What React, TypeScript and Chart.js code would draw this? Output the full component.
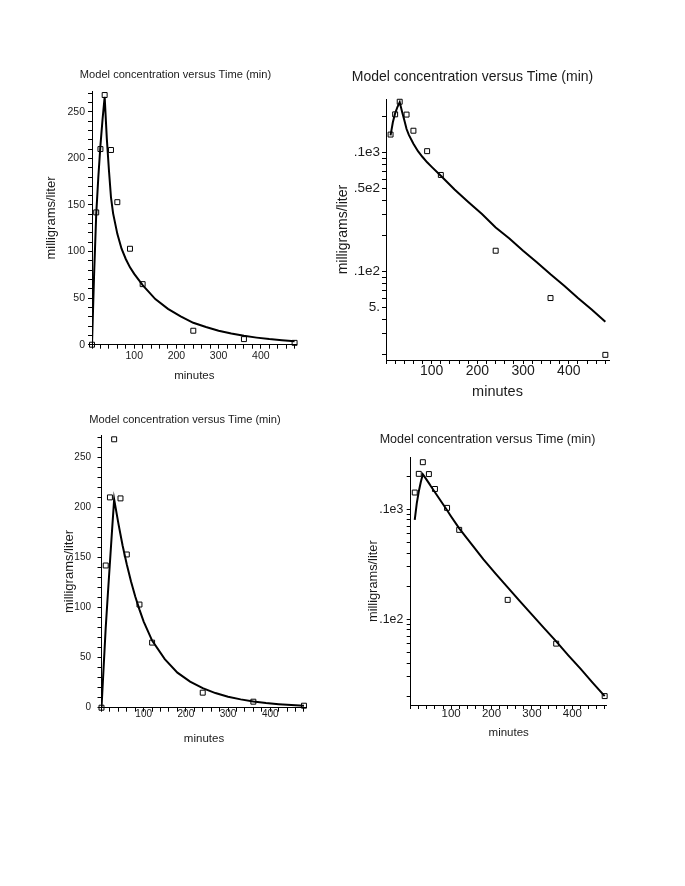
import React, { useEffect, useRef } from 'react';
import { Chart, registerables } from 'chart.js';

Chart.register(...registerables);

// ---- data (minutes, milligrams/liter) ----
const TIMES = [0, 10, 20, 30, 45, 60, 90, 120, 240, 360, 480];
const CONCENTRATIONS = [0, 142, 210, 268, 209, 153, 103, 65, 15, 6, 2];

const MODEL_TIMES = [0, 5, 10, 15, 20, 25, 30, 35, 40, 45, 50, 60, 70, 80, 90, 100, 120, 150, 180, 210, 240, 270, 300, 330, 360, 390, 420, 450, 480];
// upper pair of panels: fitted model
const MODEL_A = [0, 76, 140, 180, 214, 242, 266, 222, 188, 158, 141, 119, 103, 92, 83, 76, 64, 49, 38.5, 30.5, 23.5, 19, 15, 12, 9.5, 7.6, 6, 4.8, 3.8];
// lower pair of panels: fitted model
const MODEL_B = [0, 40, 80, 113, 145, 177, 208, 196, 184, 173, 162, 143, 126, 111, 98, 86, 67, 48.5, 35, 26, 19.5, 14.6, 11, 8.3, 6.3, 4.7, 3.55, 2.65, 2.0];

const TITLE = 'Model concentration versus Time (min)';
const Y_LABEL = 'milligrams/liter';
const X_LABEL = 'minutes';

const X_LABELED_TICKS = [100, 200, 300, 400];
const X_MINOR_STEP = 20;
const Y_LIN_LABELED_TICKS = [0, 50, 100, 150, 200, 250];
const Y_LIN_MINOR_STEP = 10;
const LOG_MINOR_TICKS = [2, 3, 4, 5, 6, 7, 8, 9, 10, 20, 30, 40, 50, 60, 70, 80, 90, 100, 200];
const LOG_TICKS_TOP = [5, 10, 50, 100];
const LOG_LABELS_TOP = ['5.', '.1e2', '.5e2', '.1e3'];
const LOG_TICKS_BOTTOM = [10, 100];
const LOG_LABELS_BOTTOM = ['.1e2', '.1e3'];
const LOG_CURVE_START = 10;

// ---- layout (page coordinates) ----
type Geo = {
  canvas: [number, number, number, number];
  plot: [number, number, number, number];
  title: [number, number, number];
  yTitle: [number, number];
  xTitle: [number, number];
  xTicks: [number, number];
  yTicks: [number, number];
  xMax: number;
  yMin: number;
  yMax: number;
};

const FONT = "'Liberation Sans', Arial, sans-serif";
const INK = '#1a1a1a';
const TL = 4;

const GEO_TL: Geo = {
  canvas: [30, 60, 310, 392],
  plot: [92, 91.3, 296.7, 344.7],
  title: [175.5, 75, 11.1],
  yTitle: [51.7, 13],
  xTitle: [376, 11.5],
  xTicks: [356, 10.5],
  yTicks: [85, 10.5],
  xMax: 485,
  yMin: 0,
  yMax: 272,
};
const GEO_TR: Geo = {
  canvas: [325, 62, 625, 405],
  plot: [386, 99.3, 609, 360],
  title: [472.5, 77.5, 14],
  yTitle: [343.3, 14],
  xTitle: [391.7, 14.5],
  xTicks: [371.5, 14],
  yTicks: [380, 13.5],
  xMax: 488,
  yMin: 1.81,
  yMax: 281,
};
const GEO_BL: Geo = {
  canvas: [45, 405, 320, 755],
  plot: [101.5, 435.3, 306.5, 707.7],
  title: [185, 420, 11.1],
  yTitle: [69, 13],
  xTitle: [739, 11.5],
  xTicks: [714.5, 10],
  yTicks: [91, 10],
  xMax: 486,
  yMin: 0,
  yMax: 272,
};
const GEO_BR: Geo = {
  canvas: [355, 425, 625, 750],
  plot: [410.7, 457.3, 606.7, 705],
  title: [487.5, 440, 12.5],
  yTitle: [373.3, 12.8],
  xTitle: [733.3, 11.5],
  xTicks: [713.8, 11.5],
  yTicks: [403.3, 12.3],
  xMax: 485,
  yMin: 1.66,
  yMax: 297,
};

function buildConfig(geo: Geo, model: number[], log: boolean, logTicks: number[], logLabels: string[]): any {
  const [cl, ct, cr, cb] = geo.canvas;
  const [pl, pt, pr, pb] = geo.plot;
  const boxLeft = 2 * geo.title[0] - pr;
  const padLeft = boxLeft - cl;
  const padRight = cr - pr;
  const yWidth = pl - boxLeft;
  const xHeight = cb - pb;
  const tLH = geo.title[2] * 1.2;
  const titlePadTop = geo.title[1] - ct - tLH / 2;
  const titlePadBottom = pt - ct - titlePadTop - tLH;
  const yTLH = geo.yTitle[1] * 1.2;
  const yTitlePad = geo.yTitle[0] - boxLeft - yTLH / 2;
  const xTLH = geo.xTitle[1] * 1.2;
  const xTitlePad = cb - geo.xTitle[0] - xTLH / 2;
  const xTickLH = geo.xTicks[1] * 1.2;
  const xTickPad = geo.xTicks[0] - pb - TL - xTickLH / 2;
  const yTickPad = pl - TL - geo.yTicks[0];

  const pts = TIMES.map((t, i) => ({ x: t, y: CONCENTRATIONS[i] })).filter((p) => !log || p.y > 0);
  const curve = MODEL_TIMES.map((t, i) => ({ x: t, y: model[i] })).filter((p) => !log || p.x >= LOG_CURVE_START);

  const xTicks: number[] = [];
  for (let v = 0; v <= geo.xMax; v += X_MINOR_STEP) xTicks.push(v);
  const yLinTicks: number[] = [];
  for (let v = 0; v <= geo.yMax; v += Y_LIN_MINOR_STEP) yLinTicks.push(v);

  const grid = { display: true, drawOnChartArea: false, drawTicks: true, tickLength: TL, color: '#000', lineWidth: 1 };
  const border = { display: true, color: '#000', width: 1 };

  return {
    type: 'scatter',
    data: {
      datasets: [
        {
          data: curve,
          showLine: true,
          borderColor: '#000',
          borderWidth: 2,
          pointRadius: 0,
          tension: 0,
          fill: false,
          order: 2,
        },
        {
          data: pts,
          showLine: false,
          pointStyle: 'rect',
          pointRadius: 3.5,
          pointBorderWidth: 1,
          pointBorderColor: '#000',
          pointBackgroundColor: 'rgba(255,255,255,0)',
          borderColor: '#000',
          backgroundColor: 'rgba(255,255,255,0)',
          clip: false,
          order: 1,
        },
      ],
    },
    options: {
      responsive: false,
      animation: false,
      devicePixelRatio: 1,
      layout: { padding: { left: padLeft, right: padRight, top: 0, bottom: 0 } },
      plugins: {
        legend: { display: false },
        tooltip: { enabled: false },
        title: {
          display: true,
          text: TITLE,
          color: INK,
          font: { family: FONT, size: geo.title[2], weight: 'normal' },
          padding: { top: titlePadTop, bottom: titlePadBottom },
        },
      },
      scales: {
        x: {
          type: 'linear',
          position: 'bottom',
          min: 0,
          max: geo.xMax,
          grid,
          border,
          afterFit: (s: any) => { s.height = xHeight; },
          afterBuildTicks: (s: any) => { s.ticks = xTicks.map((v) => ({ value: v })); },
          ticks: {
            autoSkip: false,
            maxRotation: 0,
            minRotation: 0,
            padding: xTickPad,
            color: INK,
            font: { family: FONT, size: geo.xTicks[1] },
            callback: (v: any) => (X_LABELED_TICKS.includes(Number(v)) ? String(v) : ''),
          },
          title: {
            display: true,
            text: X_LABEL,
            color: INK,
            font: { family: FONT, size: geo.xTitle[1] },
            padding: { top: 0, bottom: xTitlePad },
          },
        },
        y: {
          type: log ? 'logarithmic' : 'linear',
          position: 'left',
          min: geo.yMin,
          max: geo.yMax,
          grid,
          border,
          afterFit: (s: any) => { s.width = yWidth; },
          afterBuildTicks: (s: any) => {
            s.ticks = (log ? LOG_MINOR_TICKS : yLinTicks).map((v) => ({ value: v }));
          },
          ticks: {
            autoSkip: false,
            padding: yTickPad,
            color: INK,
            font: { family: FONT, size: geo.yTicks[1] },
            callback: (v: any) => {
              const n = Number(v);
              if (log) {
                const i = logTicks.indexOf(n);
                return i >= 0 ? logLabels[i] : '';
              }
              return Y_LIN_LABELED_TICKS.includes(n) ? String(n) : '';
            },
          },
          title: {
            display: true,
            text: Y_LABEL,
            color: INK,
            font: { family: FONT, size: geo.yTitle[1] },
            padding: { top: yTitlePad, bottom: 0 },
          },
        },
      },
    },
  };
}

function Panel({ geo, model, log, logTicks, logLabels }: { geo: Geo; model: number[]; log: boolean; logTicks: number[]; logLabels: string[] }) {
  const ref = useRef<HTMLCanvasElement>(null);
  useEffect(() => {
    if (!ref.current) return;
    const chart = new Chart(ref.current, buildConfig(geo, model, log, logTicks, logLabels));
    return () => chart.destroy();
  }, []);
  const [cl, ct, cr, cb] = geo.canvas;
  return (
    <canvas
      ref={ref}
      width={cr - cl}
      height={cb - ct}
      style={{ position: 'absolute', left: cl - 8, top: ct - 8, width: cr - cl, height: cb - ct }}
    />
  );
}

export default function App() {
  return (
    <div style={{ position: 'relative', width: 669, height: 870, background: '#fff' }}>
      <Panel geo={GEO_TL} model={MODEL_A} log={false} logTicks={[]} logLabels={[]} />
      <Panel geo={GEO_TR} model={MODEL_A} log={true} logTicks={LOG_TICKS_TOP} logLabels={LOG_LABELS_TOP} />
      <Panel geo={GEO_BL} model={MODEL_B} log={false} logTicks={[]} logLabels={[]} />
      <Panel geo={GEO_BR} model={MODEL_B} log={true} logTicks={LOG_TICKS_BOTTOM} logLabels={LOG_LABELS_BOTTOM} />
    </div>
  );
}
